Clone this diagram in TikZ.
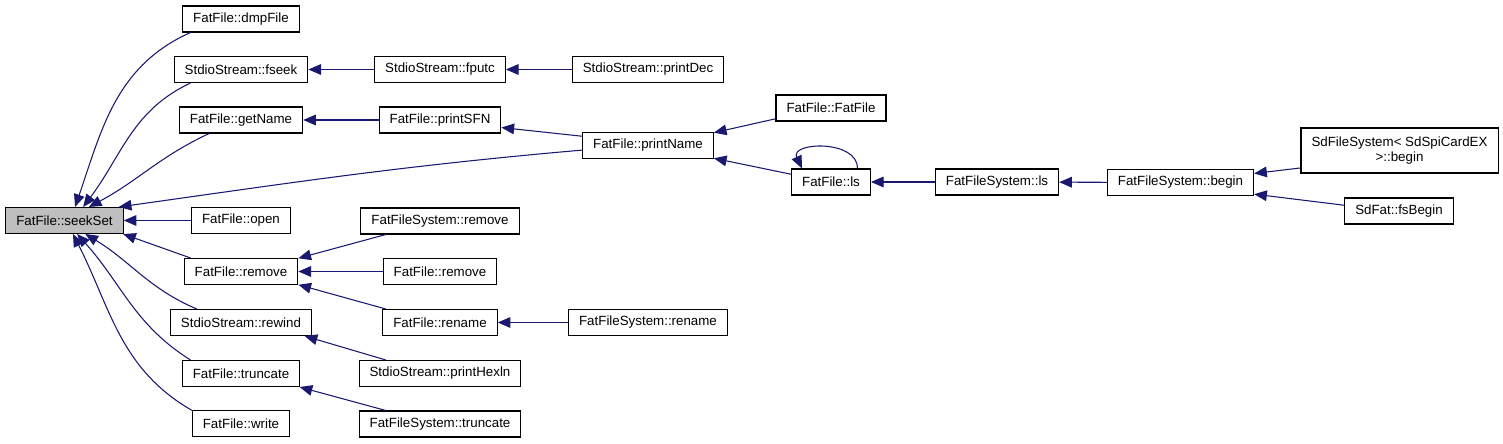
\documentclass[tikz,border=0pt]{standalone}
\usepackage{fontspec}
\setmainfont{Liberation Sans}
\usetikzlibrary{arrows.meta}
\definecolor{cnavy}{HTML}{191970}
\definecolor{cgrey}{HTML}{BFBFBF}
\tikzset{
  every picture/.style={font=\fontsize{10}{11.25}\selectfont, line width=0.75pt},
  box/.style={draw=black, fill=#1, line width=0.8pt, align=center, inner xsep=7.9pt, inner ysep=2pt, minimum height=19.5pt},
  box/.default=white,
  arrow/.style={-{Triangle[length=9.5pt, width=8pt]}, draw=cnavy, line width=0.8pt},
}

\begin{document}
\begin{tikzpicture}[x=0.75pt, y=0.75pt]
  \useasboundingbox (0,0) rectangle (1503,443);
  \node[box=cgrey] (seekSet) at (64.5,222.5) {FatFile::seekSet};
  % direct callers
  \node[box] (dmpFile) at (241,424) {FatFile::dmpFile};
  \node[box] (fseek) at (241,373.5) {StdioStream::fseek};
  \node[box] (getName) at (241,323) {FatFile::getName};
  \node[box] (open) at (241,222.5) {FatFile::open};
  \node[box] (remove) at (241,171.5) {FatFile::remove};
  \node[box] (rewind) at (241,120.5) {StdioStream::rewind};
  \node[box] (truncate) at (241,69.5) {FatFile::truncate};
  \node[box] (write) at (241,19.5) {FatFile::write};
  % second column
  \node[box] (fputc) at (440,373.5) {StdioStream::fputc};
  \node[box] (printSFN) at (440,323) {FatFile::printSFN};
  \node[box] (fsRemove) at (440,222) {FatFileSystem::remove};
  \node[box] (removeB) at (440,171.5) {FatFile::remove};
  \node[box] (rename) at (440,120.5) {FatFile::rename};
  \node[box] (printHexln) at (440,69.5) {StdioStream::printHexln};
  \node[box] (fsTruncate) at (440,19) {FatFileSystem::truncate};
  % third column
  \node[box] (printDec) at (648,373.5) {StdioStream::printDec};
  \node[box] (printName) at (648,297.5) {FatFile::printName};
  \node[box] (fsRename) at (648,120.5) {FatFileSystem::rename};
  % ls chain
  \node[box] (ctor) at (831,335) {FatFile::FatFile};
  \node[box] (ls) at (831,261) {FatFile::ls};
  \node[box] (fsLs) at (997,261) {FatFileSystem::ls};
  \node[box] (fsBegin) at (1180.5,260.5) {FatFileSystem::begin};
  \node[box, minimum height=33.75pt] (sdBegin) at (1399.5,292.5) {SdFileSystem< SdSpiCardEX\\>::begin};
  \node[box] (sdFsBegin) at (1399,232) {SdFat::fsBegin};

  \draw[arrow] (dmpFile.195) to[out=204, in=71] (seekSet.52);
  \draw[arrow] (fseek.195) to[out=205, in=53] (seekSet.36);
  \draw[arrow] (getName.203) to[out=205, in=28] (seekSet.29);
  \draw[arrow] (printName.184) to[out=185, in=8] (seekSet.14);
  \draw[arrow] (open) -- (seekSet);
  \draw[arrow] (remove.165) -- (seekSet.-13);
  \draw[arrow] (rewind.163) to[out=157, in=-31] (seekSet.-33);
  \draw[arrow] (truncate.165) to[out=148, in=-48] (seekSet.-47);
  \draw[arrow] (write.165) to[out=150, in=-63] (seekSet.-58);

  \draw[arrow] (fputc) -- (fseek); \draw[arrow] (printDec) -- (fputc);
  \draw[arrow] (printSFN) -- (getName); \draw[arrow] (printName.172) -- (printSFN.-7);
  \draw[arrow] (ctor.191) -- (printName.11); \draw[arrow] (ls.169) -- (printName.-11);
  \draw[arrow] (ls.27) to[out=90, in=115, looseness=1.35] (ls.155);
  \draw[arrow] (fsLs) -- (ls); \draw[arrow] (fsBegin) -- (fsLs);
  \draw[arrow] (sdBegin.190) -- (fsBegin.7); \draw[arrow] (sdFsBegin.174) -- (fsBegin.-9);

  \draw[arrow] (fsRemove.194) -- (remove.13); \draw[arrow] (removeB) -- (remove);
  \draw[arrow] (rename.166) -- (remove.-13); \draw[arrow] (fsRename) -- (rename);
  \draw[arrow] (printHexln.166) -- (rewind.-12);
  \draw[arrow] (fsTruncate.166) -- (truncate.-13);
\end{tikzpicture}
\end{document}
